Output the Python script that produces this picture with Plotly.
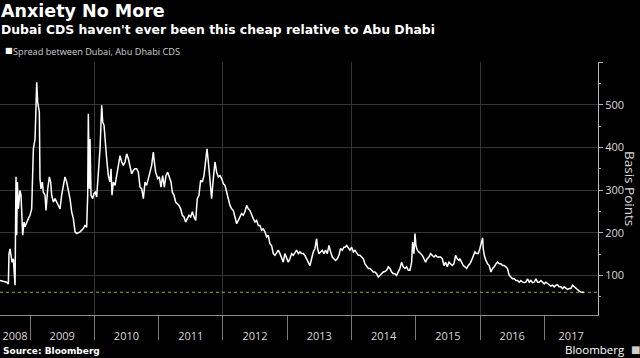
import plotly.graph_objects as go

# ---- data (decimal year, spread in basis points) ----
years = [
    2008.533, 2008.585, 2008.637, 2008.663, 2008.673, 2008.689, 2008.720, 2008.741, 2008.767, 2008.782,
    2008.793, 2008.803, 2008.819, 2008.844, 2008.860, 2008.886, 2008.907, 2008.922, 2008.948, 2008.974,
    2009.000, 2009.026, 2009.052, 2009.078, 2009.104, 2009.119, 2009.145, 2009.155, 2009.171, 2009.192,
    2009.207, 2009.233, 2009.249, 2009.275, 2009.301, 2009.321, 2009.337, 2009.363, 2009.389, 2009.415,
    2009.441, 2009.467, 2009.492, 2009.518, 2009.544, 2009.570, 2009.596, 2009.622, 2009.648, 2009.674,
    2009.700, 2009.726, 2009.778, 2009.829, 2009.855, 2009.881, 2009.897, 2009.907, 2009.923, 2009.933,
    2009.949, 2009.975, 2009.995, 2010.016, 2010.037, 2010.063, 2010.089, 2010.115, 2010.130, 2010.151,
    2010.166, 2010.192, 2010.218, 2010.244, 2010.260, 2010.275, 2010.296, 2010.322,
    2010.348, 2010.374, 2010.400, 2010.426, 2010.452, 2010.478, 2010.503, 2010.529, 2010.555, 2010.581,
    2010.607, 2010.633, 2010.659, 2010.685, 2010.711, 2010.737, 2010.763, 2010.789, 2010.814, 2010.840,
    2010.866, 2010.892, 2010.918, 2010.934, 2010.954, 2010.986, 2011.011, 2011.037, 2011.063, 2011.089,
    2011.115, 2011.141, 2011.167, 2011.193, 2011.214, 2011.240, 2011.265, 2011.291, 2011.317, 2011.343,
    2011.369, 2011.395, 2011.421, 2011.447, 2011.473, 2011.499, 2011.525, 2011.551, 2011.577, 2011.602,
    2011.628, 2011.654, 2011.680, 2011.706, 2011.732, 2011.753, 2011.774, 2011.799, 2011.825, 2011.851,
    2011.877, 2011.903, 2011.929, 2011.955, 2011.981, 2012.007, 2012.033, 2012.059, 2012.085, 2012.110,
    2012.136, 2012.162, 2012.188, 2012.214, 2012.240, 2012.266, 2012.291, 2012.317, 2012.343, 2012.369,
    2012.395, 2012.421, 2012.447, 2012.473, 2012.499, 2012.525, 2012.551, 2012.577, 2012.603, 2012.628,
    2012.654, 2012.680, 2012.706, 2012.732, 2012.758, 2012.784, 2012.810, 2012.836, 2012.862, 2012.888,
    2012.914, 2012.939, 2012.965, 2012.991, 2013.017, 2013.043, 2013.069, 2013.095, 2013.121, 2013.147,
    2013.173, 2013.199, 2013.225, 2013.250, 2013.276, 2013.302, 2013.328, 2013.354, 2013.380, 2013.406,
    2013.432, 2013.458, 2013.473, 2013.494, 2013.520, 2013.546, 2013.572, 2013.598, 2013.624, 2013.650,
    2013.676, 2013.702, 2013.727, 2013.753, 2013.779, 2013.805, 2013.831, 2013.857, 2013.883,
    2013.899, 2013.925, 2013.951, 2013.977, 2014.003, 2014.029, 2014.054, 2014.080, 2014.106, 2014.132,
    2014.158, 2014.184, 2014.210, 2014.236, 2014.262, 2014.288, 2014.314, 2014.340, 2014.365, 2014.391,
    2014.417, 2014.443, 2014.469, 2014.495, 2014.521, 2014.547, 2014.573, 2014.599, 2014.625, 2014.651,
    2014.677, 2014.702, 2014.728, 2014.754, 2014.780, 2014.806, 2014.832, 2014.858, 2014.884, 2014.910,
    2014.936, 2014.951, 2014.972, 2014.988, 2015.003, 2015.024, 2015.050, 2015.076, 2015.102, 2015.128,
    2015.153, 2015.179, 2015.205, 2015.231, 2015.257, 2015.283, 2015.309, 2015.335, 2015.361, 2015.387,
    2015.413, 2015.439, 2015.465, 2015.491, 2015.516, 2015.542, 2015.568, 2015.594, 2015.620, 2015.646,
    2015.672, 2015.687, 2015.713, 2015.739, 2015.765, 2015.791, 2015.817, 2015.843, 2015.868, 2015.894,
    2015.920, 2015.946, 2015.972, 2015.998, 2016.024, 2016.040, 2016.050, 2016.066, 2016.091, 2016.117,
    2016.143, 2016.169, 2016.195, 2016.221, 2016.247, 2016.273, 2016.299, 2016.325, 2016.351, 2016.377,
    2016.402, 2016.428, 2016.454, 2016.480, 2016.506, 2016.532, 2016.558, 2016.584, 2016.610, 2016.636,
    2016.662, 2016.687, 2016.713, 2016.739, 2016.765, 2016.791, 2016.817, 2016.843, 2016.869, 2016.895,
    2016.921, 2016.947, 2016.973, 2016.999, 2017.024, 2017.050, 2017.076, 2017.102, 2017.128, 2017.154,
    2017.180, 2017.206, 2017.232, 2017.258, 2017.284, 2017.310, 2017.336, 2017.361, 2017.387, 2017.413,
    2017.439, 2017.465, 2017.491, 2017.517, 2017.543, 2017.569, 2017.595, 2017.616,
]
spread_bp = [
    88, 86, 84, 80, 151, 162, 131, 139, 77, 331,
    194, 319, 256, 299, 288, 194, 225, 214, 225, 233,
    241, 256, 397, 420, 553, 506, 483, 327, 303, 319,
    295, 288, 252, 303, 331, 319, 288, 272, 280, 272,
    264, 256, 288, 311, 331, 319, 303, 280, 249, 233,
    202, 198, 202, 210, 217, 213, 288, 479, 303, 420,
    288, 280, 292, 295, 284, 334, 397, 499, 460, 452,
    413, 374, 334, 319, 350, 288, 319, 311,
    334, 358, 381, 366, 358, 366, 385, 374, 358, 338,
    346, 350, 350, 342, 307, 303, 280, 319, 311, 331,
    342, 358, 389, 366, 342, 327, 331, 307, 334, 307,
    334, 342, 331, 319, 295, 288, 272, 268, 264, 256,
    241, 237, 225, 233, 241, 237, 249, 237, 229, 280,
    288, 323, 319, 334, 374, 397, 366, 327, 280, 327,
    366, 342, 331, 334, 327, 315, 311, 295, 280, 264,
    256, 252, 237, 221, 229, 237, 245, 241, 249, 264,
    256, 252, 241, 233, 225, 229, 217, 217, 206, 209,
    202, 190, 194, 174, 170, 151, 147, 155, 159, 151,
    139, 131, 151, 143, 131, 139, 151, 147, 155, 159,
    151, 155, 151, 151, 147, 139, 131, 123, 139, 155,
    163, 186, 163, 151, 155, 159, 151, 159, 151, 170,
    155, 143, 139, 135, 139, 147, 163, 159, 166,
    166, 170, 163, 159, 166, 155, 159, 151, 147, 147,
    143, 139, 127, 120, 116, 116, 112, 108, 108, 104,
    96, 100, 104, 108, 109, 112, 120, 116, 108, 104,
    104, 100, 108, 116, 131, 120, 116, 120, 112, 112,
    131, 178, 151, 198, 170, 159, 155, 151, 147, 139,
    131, 139, 143, 151, 147, 143, 147, 143, 143, 143,
    139, 123, 131, 120, 131, 127, 123, 127, 147, 139,
    135, 139, 131, 123, 120, 116, 123, 127, 135, 147,
    155, 151, 151, 163, 182, 188, 163, 147, 135, 127,
    123, 108, 116, 120, 127, 131, 127, 127, 123, 123,
    120, 116, 100, 96, 92, 92, 88, 88, 84, 88,
    84, 83, 84, 92, 84, 88, 83, 84, 92, 84,
    84, 88, 84, 80, 84, 80, 78, 75, 77, 73,
    77, 78, 73, 73, 69, 73, 69, 67, 69, 69,
    77, 73, 69, 67, 63, 61, 61, 60,
]
current_level = 60
year_labels = ["2008", "2009", "2010", "2011", "2012", "2013", "2014", "2015", "2016", "2017"]
y_ticks = [100, 200, 300, 400, 500]

# ---- layout helpers ----
x_range = [2008.533, 2017.835]
y_range = [7, 600.5]
year_starts = [int(l) for l in year_labels[1:]]
bounds = [x_range[0]] + year_starts + [x_range[1]]
label_pos = [(bounds[i] + bounds[i + 1]) / 2 for i in range(len(year_labels))]
grid_years = [y for y in year_starts if y % 2 == 0]

fig = go.Figure()
fig.add_trace(go.Scatter(x=x_range, y=[current_level, current_level], mode="lines",
                         line=dict(color="#659233", width=1.3, dash="dot"), hoverinfo="skip"))
fig.add_trace(go.Scatter(x=years, y=spread_bp, mode="lines",
                         line=dict(color="white", width=1.5), hoverinfo="skip"))
fig.add_trace(go.Scatter(x=[], y=[], xaxis="x2", hoverinfo="skip"))
fig.add_trace(go.Scatter(x=[], y=[], xaxis="x3", hoverinfo="skip"))

tick_font = dict(family="Open Sans", size=11, color="#d8d8d8")

fig.update_layout(
    width=640, height=358,
    margin=dict(l=0, r=42, t=62, b=43, autoexpand=False),
    paper_bgcolor="black", plot_bgcolor="black",
    showlegend=False,
    xaxis=dict(range=x_range, tickmode="array", tickvals=label_pos, ticktext=year_labels,
               ticks="outside", ticklen=11, tickcolor="rgba(0,0,0,0)",
               showgrid=False, zeroline=False, showline=True, linecolor="#8a8a8a", linewidth=1,
               tickfont=tick_font, automargin=False),
    xaxis2=dict(range=x_range, overlaying="x", anchor="y", side="bottom", tickmode="array",
                tickvals=year_starts, ticks="outside", ticklen=24, tickcolor="#7a7a7a", tickwidth=1,
                showticklabels=False, showgrid=False, zeroline=False, showline=False),
    xaxis3=dict(range=x_range, overlaying="x", anchor="y", side="bottom", tickmode="array",
                tickvals=grid_years, ticks="", showticklabels=False, showgrid=True,
                gridcolor="#363636", gridwidth=1, zeroline=False, showline=False),
    yaxis=dict(range=y_range, side="right", tickmode="array", tickvals=y_ticks + [600],
               ticktext=[str(v) for v in y_ticks] + [""],
               ticks="outside", ticklen=4, tickcolor="#b0b0b0",
               showline=True, linecolor="#b8b8b8", linewidth=1,
               showgrid=True, gridcolor="#363636", gridwidth=1, zeroline=False,
               tickfont=tick_font, automargin=False,
               minor=dict(tickvals=[50, 150, 250, 350, 450, 550], ticks="outside", ticklen=2,
                          tickcolor="#b0b0b0", showgrid=False)),
)

def ypaper(px):
    return (358 - 43 - px) / (358 - 62 - 43)

def xpaper(px):
    return px / (640 - 42)

annotations = [
    dict(text="<b>Anxiety No More</b>", x=xpaper(-1), y=ypaper(11), xanchor="left", yanchor="middle",
         font=dict(family="DejaVu Sans", size=17.5, color="white")),
    dict(text="<b>Dubai CDS haven't ever been this cheap relative to Abu Dhabi</b>", x=xpaper(-1), y=ypaper(29),
         xanchor="left", yanchor="middle", font=dict(family="DejaVu Sans", size=12.4, color="white")),
    dict(text="■", x=xpaper(3), y=ypaper(50.5), xanchor="left", yanchor="middle",
         font=dict(family="DejaVu Sans", size=8, color="white")),
    dict(text="Spread between Dubai, Abu Dhabi CDS", x=xpaper(11), y=ypaper(51), xanchor="left", yanchor="middle",
         font=dict(family="Open Sans", size=9.2, color="#d0d0d0")),
    dict(text="Basis Points", x=xpaper(630), y=ypaper(188), xanchor="center", yanchor="middle", textangle=90,
         font=dict(family="Open Sans", size=13.5, color="#d8d8d8")),
    dict(text="<b>Source: Bloomberg</b>", x=xpaper(1), y=ypaper(351), xanchor="left", yanchor="middle",
         font=dict(family="DejaVu Sans", size=9, color="white")),
    dict(text="Bloomberg", x=xpaper(627), y=ypaper(349.5), xanchor="right", yanchor="middle",
         font=dict(family="Open Sans", size=11.5, color="white")),
    dict(text="■", x=xpaper(635), y=ypaper(349.5), xanchor="center", yanchor="middle",
         font=dict(family="DejaVu Sans", size=10, color="#cfcfcf")),
]
for a in annotations:
    a.update(xref="paper", yref="paper", showarrow=False)
fig.update_layout(annotations=annotations)

fig.write_html("out.html", config={"displayModeBar": False},
               post_script="document.body.style.margin='0';document.body.style.overflow='hidden';"
                           "document.body.style.background='black';")
